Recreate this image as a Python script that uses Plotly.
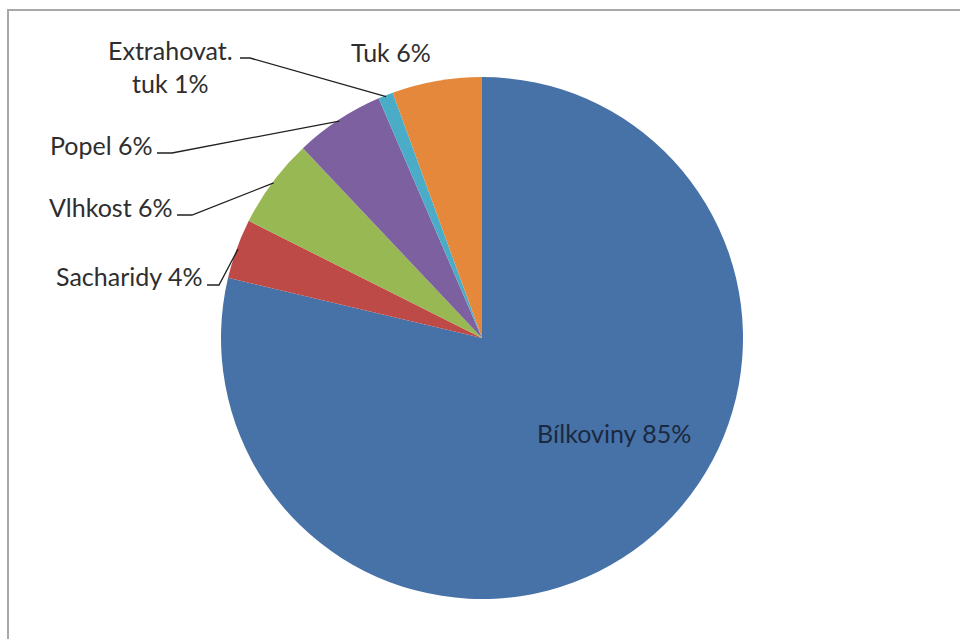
import math
import plotly.graph_objects as go

# ---- data ----
labels = ["Bílkoviny", "Sacharidy", "Vlhkost", "Popel", "Extrahovat.<br>tuk", "Tuk"]
values = [85, 4, 6, 6, 1, 6]
colors = ["#4672A8", "#BE4A47", "#97B853", "#7D60A0", "#4AACC6", "#E6883B"]

W, H = 960, 639
CX, CY, R = 482, 338, 261

# label centres (pixels) and leader-line attach points (pixels), layout only
label_pos = {
    "Bílkoviny": (614, 433),
    "Sacharidy": (129, 276),
    "Vlhkost": (111, 207),
    "Popel": (101, 145),
    "Extrahovat.<br>tuk": (170, 67),
    "Tuk": (391, 52),
}
leader_start = {
    "Sacharidy": [(207, 285), (219, 285)],
    "Vlhkost": [(177, 215), (192, 215)],
    "Popel": [(157, 153), (172, 153)],
    "Extrahovat.<br>tuk": [(240, 58), (250, 58)],
}

def px(x):
    return x / W

def py(y):
    return 1 - y / H

fig = go.Figure(go.Pie(
    labels=labels,
    values=values,
    sort=False,
    direction="clockwise",
    rotation=0,
    textinfo="none",
    hoverinfo="label+value",
    marker=dict(colors=colors, line=dict(color="white", width=0)),
    domain=dict(x=[px(CX - R), px(CX + R)], y=[py(CY + R), py(CY - R)]),
    showlegend=False,
))

total = sum(values)
cum = 0
shapes = []
annotations = []
for lab, v in zip(labels, values):
    mid = (cum + v / 2) / total * 2 * math.pi
    cum += v
    ex = CX + R * 0.995 * math.sin(mid)
    ey = CY - R * 0.995 * math.cos(mid)
    tx, ty = label_pos[lab]
    annotations.append(dict(
        x=px(tx), y=py(ty), xref="paper", yref="paper",
        text=f"{lab} {v}%", showarrow=False,
        xanchor="center", yanchor="middle",
        font=dict(family="Lato", size=25, color="#1B2940" if lab == "Bílkoviny" else "#2E2E2E"),
    ))
    if lab in leader_start:
        pts = leader_start[lab] + [(ex, ey)]
        path = "M " + " L ".join(f"{px(a):.5f},{py(b):.5f}" for a, b in pts)
        shapes.append(dict(type="path", xref="paper", yref="paper", path=path,
                           line=dict(color="#202020", width=1.3)))

shapes.append(dict(type="rect", xref="paper", yref="paper",
                   x0=px(8), y0=py(10), x1=1.02, y1=-0.02,
                   line=dict(color="#A8A8A8", width=2)))

fig.update_layout(
    width=W, height=H,
    margin=dict(l=0, r=0, t=0, b=0),
    paper_bgcolor="white",
    plot_bgcolor="white",
    shapes=shapes,
    annotations=annotations,
)
fig.write_html("out.html")
